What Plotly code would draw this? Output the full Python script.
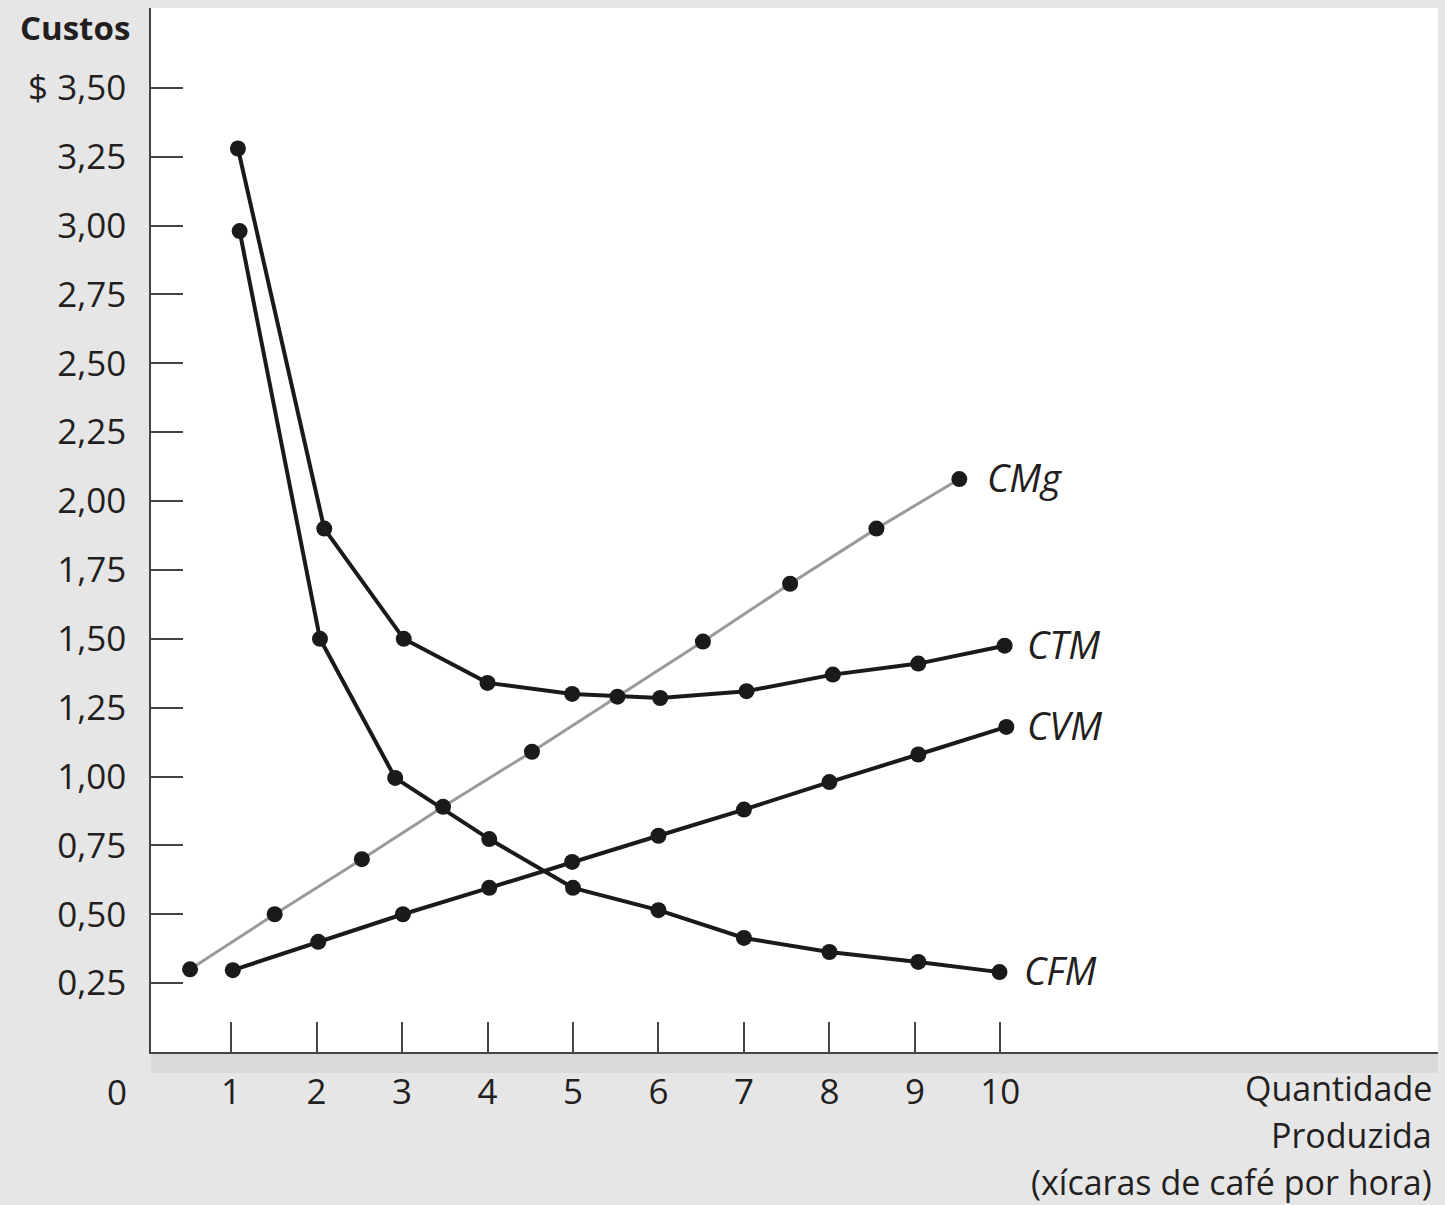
import plotly.graph_objects as go

# ---- data ----
cmg_x = [0.52, 1.51, 2.53, 3.48, 4.52, 5.52, 6.52, 7.54, 8.55, 9.52]
cmg_y = [0.30, 0.50, 0.70, 0.89, 1.09, 1.29, 1.49, 1.70, 1.90, 2.08]

ctm_x = [1.08, 2.09, 3.02, 4.00, 4.99, 6.02, 7.03, 8.04, 9.04, 10.05]
ctm_y = [3.28, 1.90, 1.50, 1.34, 1.30, 1.285, 1.31, 1.37, 1.41, 1.475]

cfm_x = [1.10, 2.04, 2.92, 4.02, 5.00, 6.00, 7.00, 8.00, 9.04, 9.99]
cfm_y = [2.98, 1.50, 0.995, 0.773, 0.596, 0.515, 0.414, 0.363, 0.327, 0.29]

cvm_x = [1.02, 2.02, 3.01, 4.02, 4.99, 6.00, 7.00, 8.00, 9.04, 10.07]
cvm_y = [0.297, 0.40, 0.50, 0.596, 0.69, 0.785, 0.88, 0.98, 1.08, 1.18]

x_ticks = [1, 2, 3, 4, 5, 6, 7, 8, 9, 10]
y_ticks = [0.25, 0.50, 0.75, 1.00, 1.25, 1.50, 1.75, 2.00, 2.25, 2.50, 2.75, 3.00, 3.25, 3.50]
y_tick_text = ["0,25", "0,50", "0,75", "1,00", "1,25", "1,50", "1,75", "2,00",
               "2,25", "2,50", "2,75", "3,00", "3,25", "$ 3,50"]

FONT = "Open Sans"
TXT = "#231f20"
BG = "#e6e6e6"

fig = go.Figure()

marker = dict(color="#1a1a1a", size=16)
fig.add_trace(go.Scatter(x=cmg_x, y=cmg_y, mode="lines+markers",
                         line=dict(color="#9a9a9a", width=3), marker=marker,
                         name="CMg", showlegend=False))
for xs, ys, nm in [(ctm_x, ctm_y, "CTM"), (cfm_x, cfm_y, "CFM"), (cvm_x, cvm_y, "CVM")]:
    fig.add_trace(go.Scatter(x=xs, y=ys, mode="lines+markers",
                             line=dict(color="#1a1a1a", width=4), marker=marker,
                             name=nm, showlegend=False))

# curve labels
labels = [("CMg", cmg_x[-1], cmg_y[-1], 26), ("CTM", ctm_x[-1], ctm_y[-1], 20),
          ("CVM", cvm_x[-1], cvm_y[-1], 19), ("CFM", cfm_x[-1], cfm_y[-1], 22)]
for txt, lx, ly, xs in labels:
    fig.add_annotation(x=lx, y=ly, text="<i>%s</i>" % txt, showarrow=False,
                       xanchor="left", yanchor="middle", xshift=xs, yshift=2,
                       font=dict(family=FONT, size=38, color=TXT))

# gray band under the x axis
fig.add_shape(type="rect", xref="paper", yref="paper", x0=0, x1=1, y0=-0.020, y1=0,
              fillcolor="#d9d9d9", line=dict(width=0), layer="below")

# texts outside the plot
fig.add_annotation(xref="paper", yref="paper", x=-0.059, y=0.981, text="<b>Custos</b>",
                   showarrow=False, xanchor="center", yanchor="middle",
                   font=dict(family=FONT, size=33, color=TXT))
fig.add_annotation(xref="paper", yref="paper", x=-0.0264, y=-0.0383, text="0",
                   showarrow=False, xanchor="center", yanchor="middle",
                   font=dict(family=FONT, size=35, color=TXT))
for i, t in enumerate(["Quantidade", "Produzida", "(xícaras de café por hora)"]):
    ypix = [1088, 1135, 1182][i]
    fig.add_annotation(xref="paper", yref="paper", x=(1434 - 151) / 1287,
                       y=(1052 - ypix) / 1044, text=t, showarrow=False,
                       xanchor="right", yanchor="middle",
                       font=dict(family=FONT, size=34, color=TXT))

fig.update_layout(
    width=1445, height=1205,
    margin=dict(l=151, r=7, t=8, b=153),
    paper_bgcolor=BG, plot_bgcolor="white",
    font=dict(family=FONT, color=TXT),
    xaxis=dict(range=[0.063, 15.12], tickvals=x_ticks, ticks="inside", ticklen=30,
               tickwidth=1.5, tickcolor="#444", showline=True, linecolor="#444",
               linewidth=1.5, showgrid=False, zeroline=False,
               tickfont=dict(family=FONT, size=35, color=TXT), ticklabelstandoff=8),
    yaxis=dict(range=[0, 3.79], tickvals=y_ticks, ticktext=y_tick_text, ticks="inside",
               ticklen=32, tickwidth=1.5, tickcolor="#444", showline=True,
               linecolor="#444", linewidth=1.5, showgrid=False, zeroline=False,
               tickfont=dict(family=FONT, size=35, color=TXT), ticklabelstandoff=16),
)

fig.write_html(
    "out.html",
    config={"displayModeBar": False},
    post_script="document.body.style.margin='0';document.body.style.background='%s';" % BG,
)
